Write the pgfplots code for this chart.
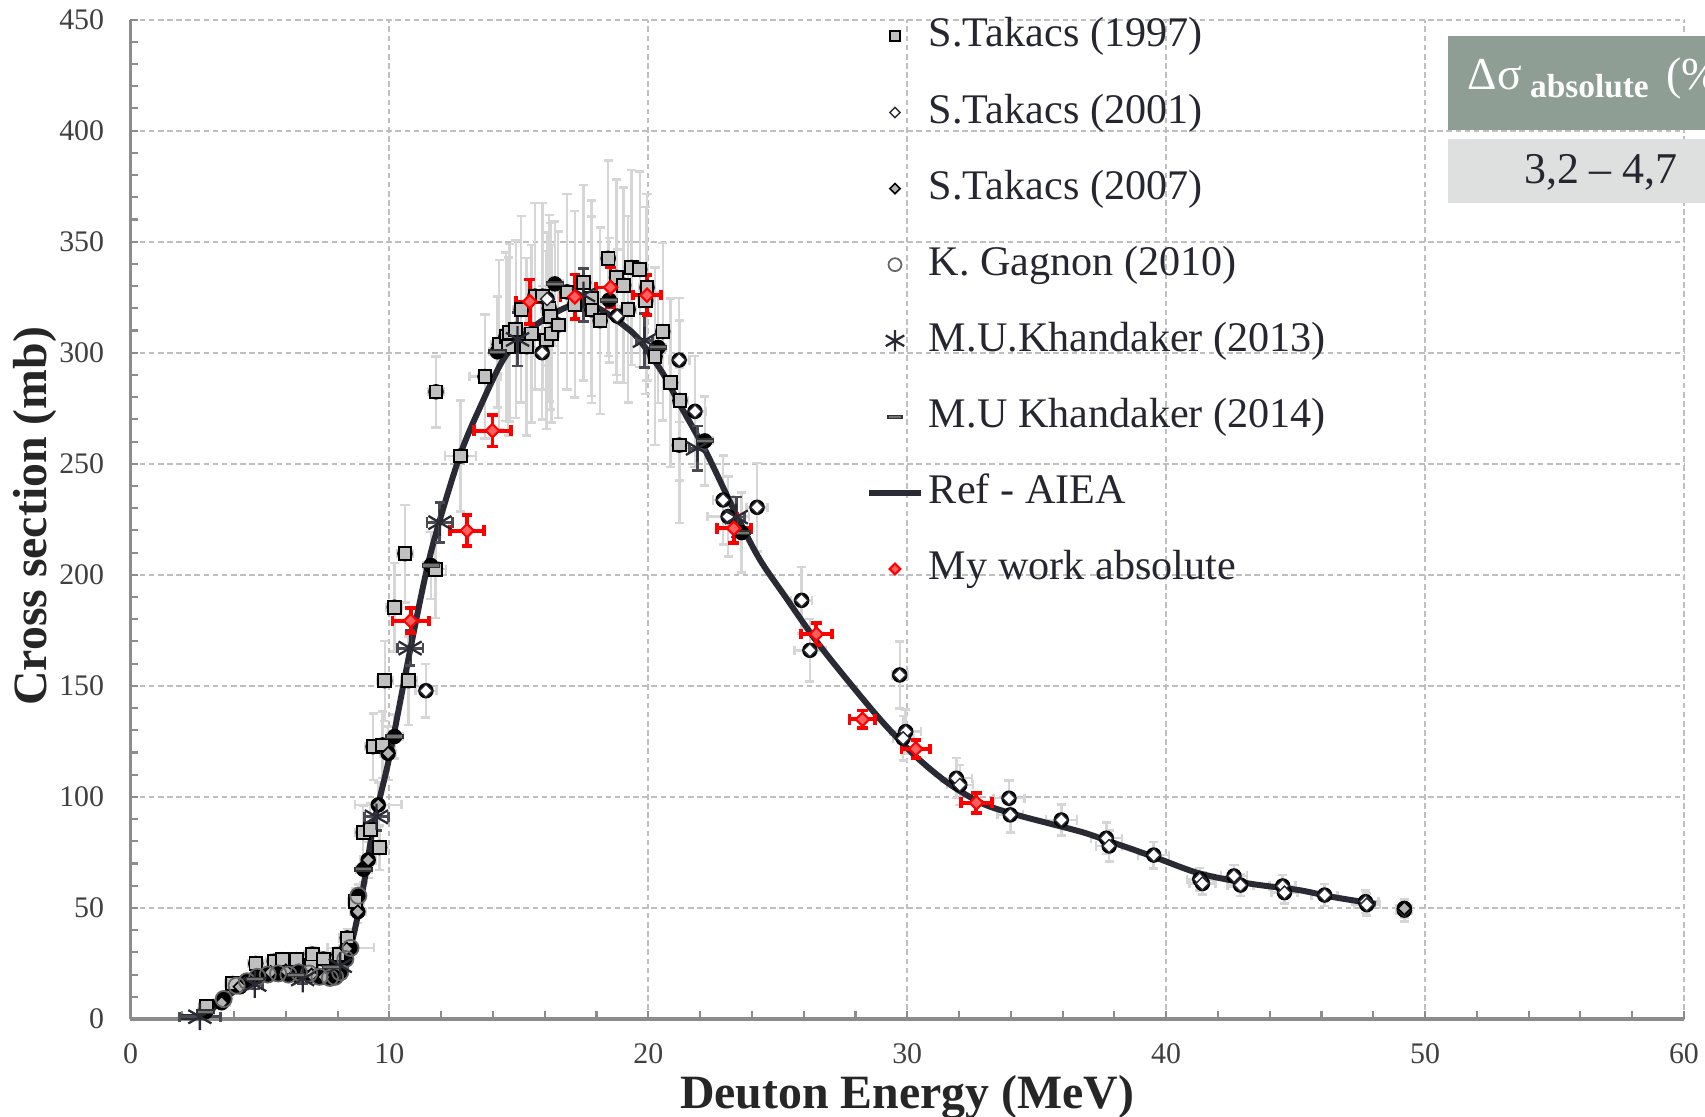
\documentclass[border=0pt]{standalone}
\usepackage{fontspec}
\setmainfont{Liberation Serif}
\usepackage{pgfplots}
\usepackage{pgfplotstable}
\pgfplotsset{compat=1.18}
\definecolor{gridc}{HTML}{BFBFBF}
\definecolor{axc}{HTML}{8C8C8C}
\definecolor{errc}{HTML}{D6D6D6}
\definecolor{curvec}{HTML}{2A2A35}
\definecolor{sqfill}{HTML}{C0C0C0}
\definecolor{txtc}{HTML}{262630}
\definecolor{tabdark}{HTML}{8F9E94}
\definecolor{tablight}{HTML}{DDE0DF}
\definecolor{myred}{HTML}{FF0000}
\definecolor{myredfill}{HTML}{FF6060}

\pgfplotsset{
 mklegend/.style={legend image code/.code={\draw[mark repeat=2,mark phase=2,##1,every mark/.append style={scale=0.8}] plot coordinates {(0cm,0cm) (0.26cm,0cm) (0.52cm,0cm)};}},
 linelegend/.style={legend image code/.code={\draw[##1] (0cm,0cm) -- (0.52cm,0cm);}},
 greyerr/.style={forget plot, only marks, mark=none,
   error bars/.cd, x dir=both, x explicit, y dir=both, y explicit,
   error bar style={errc, line width=0.7pt},
   error mark options={rotate=90, errc, mark size=1.3pt, line width=0.7pt}},
}

% S.Takacs (1997)
\pgfplotstableread{
x y ex ey
2.94 5.5 0.3 1.5
3.95 16 0.3 2
4.84 25 0.3 3
5.55 26 0.3 3
5.88 26.7 0.3 3
6.42 26.7 0.3 3
6.97 24.3 0.3 3
7.02 29.2 0.3 3
7.45 27 0.3 3
8.05 29 0.3 3.5
8.37 36.5 0.3 4
8.70 53 0.3 6
8.99 84 0.3 12
9.26 85.2 0.3 12
9.62 77.2 0.3 10
9.37 122.6 0.3 15
9.74 123.4 0.3 15
9.82 152.3 0.3 18
10.19 185.4 0.3 20
10.6 209.5 0.3 22
10.74 152.3 0.3 20
11.78 202.5 0.4 22
11.8 282.4 0.3 16
12.75 253.5 0.6 25
13.69 289.3 0.6 28
14.24 303.7 0.3 38
14.5 307.2 0.3 38
14.59 302.8 0.3 40
14.63 309 0.3 40
14.88 310.5 0.3 40
15.09 319.5 0.3 42
15.3 302.7 0.3 40
15.49 308.5 0.3 40
15.62 325.5 0.3 42
15.92 325.5 0.3 42
16.07 305.7 0.3 40
16.17 320 0.3 42
16.22 316.4 0.3 42
16.26 308.5 0.3 40
16.52 312.5 0.3 42
16.86 327.4 0.3 44
17.16 321.8 0.3 42
17.5 331.5 0.3 44
17.8 324.5 0.3 44
17.82 319.3 0.3 42
18.14 314.4 0.3 42
18.45 342.5 0.3 44
18.77 333.9 0.3 44
19.05 330.4 0.3 44
19.22 319.5 0.3 42
19.35 338.4 0.3 44
19.67 337.5 0.3 44
19.9 323.5 0.3 42
19.95 329.4 0.3 42
20.26 298.4 0.3 40
20.56 309.5 0.3 40
20.86 286.5 0.3 38
21.2 258.4 0.3 35
21.22 278.5 0.3 36
}\tA

% S.Takacs (2001)
\pgfplotstableread{
x y ex ey
11.41 147.8 0.4 12
15.9 300 0.3 30
16.09 324.2 0.3 30
18.8 316.5 0.4 30
21.19 296.7 0.4 28
21.8 273.6 0.4 25
22.89 233.7 0.4 20
23.08 226.2 0.8 18
24.2 230.4 0.4 20
25.92 188.5 0.4 15
26.24 166 0.6 14
29.71 154.9 0.3 15
29.94 129.4 0.6 10
29.84 126.4 0.4 10
31.9 108.4 0.6 9
32.03 105.4 0.5 9
33.93 99.4 0.6 8
33.98 91.9 0.5 8
35.95 89.6 0.6 7
37.69 81.4 0.6 7
37.8 77.9 0.5 7
39.52 73.8 0.6 6
41.3 62.9 0.5 5
41.4 61 0.5 5
42.62 64.4 0.5 5
42.87 60.3 0.5 5
44.5 59.9 0.5 5
44.57 56.9 0.5 5
46.12 55.8 0.5 5
47.7 52.8 0.5 5
47.75 51.5 0.5 5
49.2 49 0.3 5
}\tB

% S.Takacs (2007)
\pgfplotstableread{
x y ex ey
3.52 7.3 0.3 1.5
4.23 14.5 0.3 2
5.41 21 0.3 2
6.0 21.7 0.3 2
6.99 19.8 0.3 2
7.47 18.9 0.3 2
8.35 31.6 0.3 3
8.78 48.3 0.3 5
9.18 71.6 0.3 8
9.57 96.4 0.9 10
9.95 119.6 0.3 12
49.2 49.8 0.3 4
}\tC

% K. Gagnon (2010)
\pgfplotstableread{
x y ex ey
3.6 9 0.2 2
4.1 15 0.2 2
4.5 17 0.2 2
4.9 19 0.2 2
5.3 20 0.2 2
5.7 20.5 0.2 2
6.1 20 0.2 2
6.5 21 0.2 2
6.9 20.5 0.2 2
7.3 19 0.2 2
7.7 18.5 0.2 2
7.9 19 0.2 2
8.1 21 0.2 2
8.3 27 0.2 3
8.5 32 0.9 3
8.8 55.5 0.2 5
}\tD

% M.U.Khandaker (2013)
\pgfplotstableread{
x y ex ey
2.68 1 0.8 1
4.8 15.5 0.3 2
6.65 18 0.3 2
8.1 24 0.3 3
9.5 91 0.45 6
10.8 167 0.5 8
11.95 223.5 0.5 9
14.95 306 0.3 12
17.5 326 0.3 12
19.85 305.5 0.3 12
21.9 257 0.3 10
23.4 226 0.3 9
}\tE

% M.U Khandaker (2014)
\pgfplotstableread{
x y ex ey
2.9 3.3 0.3 1
4.8 18 0.3 2
6.4 19.8 0.3 2
7.75 23.4 0.3 2
9.0 67.4 0.3 6
10.2 127.2 0.3 10
11.6 204.2 0.3 15
14.17 300.4 0.3 25
16.39 331 0.3 28
18.49 323.7 0.3 28
20.38 302.4 0.3 25
22.18 260.3 0.3 20
23.6 219 0.3 18
}\tF

% Ref - AIEA
\pgfplotstableread{
x y
1.9 1
2.7 1
3.1 4
3.6 9
4.2 14
4.9 19
5.5 20
6.5 20.5
7.3 20
7.8 19.5
8.2 23
8.6 37
9.0 60
9.4 88
10.0 118
10.8 166
11.6 210
12.7 253
13.6 278
14.4 297
15.2 308
16.1 316
17.1 321.5
18.0 320.5
19.3 310
19.9 302
20.6 290
21.2 277
22.2 256
23.4 227
24.3 207
25.3 190
26.5 170
27.8 151
29.1 133
30.35 118
31.6 106
32.9 97
34.2 92
35.5 88
36.8 84
37.8 80
38.8 76
39.75 72
41.3 65.5
43.2 61
45.15 58
46.4 55
48.1 51.8
}\tG

% My work absolute
\pgfplotstableread{
x y ex ey
10.82 179.3 0.7 5.6
13.0 219.9 0.66 7.1
13.98 264.9 0.7 7.1
15.42 323 0.54 10
17.16 325.2 0.55 10
18.54 329.4 0.55 9
19.95 325.9 0.53 9
23.3 220.9 0.65 6.4
26.49 173.3 0.6 5
28.27 134.9 0.5 4
30.33 121.6 0.55 4
32.67 97.4 0.6 4.5
}\tH

\begin{document}
\begin{tikzpicture}
\begin{axis}[
 scale only axis, width=15.535cm, height=9.994cm,
 xmin=0, xmax=60, ymin=0, ymax=450,
 xtick={0,10,...,60}, ytick={0,50,...,450},
 minor x tick num=4, minor y tick num=4,
 axis x line*=bottom, axis y line*=left,
 axis line style={-, axc, line width=1pt},
 tick align=inside,
 major tick length=0.08cm, minor tick length=0.08cm,
 every tick/.style={axc, line width=0.6pt},
 grid=major,
 major grid style={gridc, dash pattern=on 1.6pt off 1pt, line width=0.55pt},
 /pgf/number format/assume math mode=true,
 tick label style={font=\fontsize{8.5}{10}\selectfont, text=black!75},
 xticklabel style={yshift=-0.12cm},
 yticklabel style={xshift=-0.14cm},
 xlabel={Deuton Energy (MeV)},
 ylabel={Cross section (mb)},
 xlabel style={font=\fontsize{13.6}{14}\selectfont\bfseries, text=black!85, at={(axis description cs:0.5,-0.090)}, anchor=base},
 ylabel style={font=\fontsize{13.6}{14}\selectfont\bfseries, text=black!85, at={(axis description cs:-0.0615,0.503)}, anchor=center},
 legend style={at={(0.473,1.005)}, anchor=north west, draw=none, fill=none, inner sep=0pt,
   row sep=9.65pt, column sep=0.05cm, font=\fontsize{12}{12}\selectfont, text=txtc,
   nodes={inner sep=0pt, text height=9pt, text depth=3pt}},
 legend cell align=left,
 clip=false,
]
% grey error bars beneath everything
\addplot[greyerr] table[x=x,y=y,x error=ex,y error=ey] {\tA};
\addplot[greyerr] table[x=x,y=y,x error=ex,y error=ey] {\tB};
\addplot[greyerr] table[x=x,y=y,x error=ex,y error=ey] {\tC};
\addplot[greyerr] table[x=x,y=y,x error=ex,y error=ey] {\tD};
\addplot[greyerr] table[x=x,y=y,x error=ex,y error=ey] {\tF};
% reference curve
\addplot[forget plot, curvec, line width=1.7pt, smooth, tension=0.5] table[x=x,y=y] {\tG};
% markers
\addplot[only marks, mklegend, mark=square*, mark size=1.8pt, mark options={fill=sqfill, draw=black, line width=0.55pt}] table[x=x,y=y] {\tA};
\addlegendentry{S.Takacs (1997)}
\addplot[only marks, mklegend, mark=square*, mark size=1.3pt, mark options={rotate=45, fill=white, draw=curvec, line width=0.4pt}] table[x=x,y=y] {\tB};
\addlegendentry{S.Takacs (2001)}
\addplot[only marks, mklegend, mark=square*, mark size=1.3pt, mark options={rotate=45, fill=black!30, draw=black, line width=0.45pt}] table[x=x,y=y] {\tC};
\addlegendentry{S.Takacs (2007)}
\addplot[only marks, mklegend, mark=o, mark size=2.3pt, mark options={draw=black!60, line width=0.5pt}] table[x=x,y=y] {\tD};
\addlegendentry{K. Gagnon (2010)}
\addplot[only marks, mklegend, mark=asterisk, mark size=3.8pt, mark options={draw=curvec, line width=0.65pt},
  error bars/.cd, x dir=both, x explicit, y dir=both, y explicit,
  error bar style={curvec!85, line width=0.8pt},
  error mark options={rotate=90, curvec!85, mark size=1.5pt, line width=0.8pt}] table[x=x,y=y,x error=ex,y error=ey] {\tE};
\addlegendentry{M.U.Khandaker (2013)}
\addplot[only marks, mklegend, mark=square*, mark size=1.1pt, mark options={xscale=2.2, yscale=0.45, fill=black!55, draw=black!80, line width=0.4pt}] table[x=x,y=y] {\tF};
\addlegendentry{M.U Khandaker (2014)}
\addlegendimage{curvec, line width=1.7pt, linelegend}
\addlegendentry{Ref - AIEA}
\addplot[only marks, mklegend, mark=square*, mark size=1.35pt, mark options={rotate=45, fill=myredfill, draw=myred, line width=0.6pt},
  error bars/.cd, x dir=both, x explicit, y dir=both, y explicit,
  error bar style={myred, line width=1.1pt},
  error mark options={rotate=90, myred, mark size=1.5pt, line width=1.1pt}] table[x=x,y=y,x error=ex,y error=ey] {\tH};
\addlegendentry{My work absolute}
\end{axis}
% table box in the upper right corner
\fill[tabdark] (13.175,8.89) rectangle (17.5,9.83);
\fill[tablight] (13.175,8.16) rectangle (17.5,8.80);
\node[anchor=base west, inner sep=0pt, text=white] at (13.365,9.29)
  {{\fontsize{13}{13}\selectfont Δσ}\raisebox{-0.45ex}{\fontsize{9.5}{10}\selectfont\bfseries\ absolute}\ \ {\fontsize{13}{13}\selectfont (\%)}};
\node[anchor=center, inner sep=0pt, text=txtc] at (14.705,8.47)
  {\fontsize{12.5}{13}\selectfont 3,2 – 4,7};
\pgfresetboundingbox
\path[use as bounding box] (-1.305,-0.98) rectangle (15.745,10.19);
\end{tikzpicture}
\end{document}
